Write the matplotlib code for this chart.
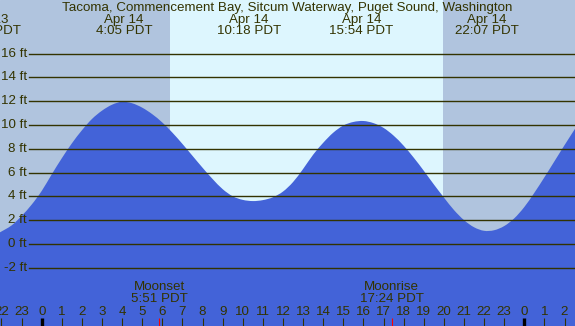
import numpy as np
import matplotlib
matplotlib.use('Agg')
import matplotlib.pyplot as plt
import matplotlib.transforms as mtransforms
from matplotlib.path import Path
from matplotlib.patches import PathPatch

plt.rcParams['font.family'] = ['Liberation Sans', 'DejaVu Sans']

# tide height (ft) every half hour, hours from midnight Apr 14 (PDT)
tide_hours = [-2.1, -1.5, -1.0, -0.5, 0.0, 0.5, 1.0, 1.5, 2.0, 2.5, 3.0, 3.5,
              4.0, 4.5, 5.0, 5.5, 6.0, 6.5, 7.0, 7.5, 8.0, 8.5, 9.0, 9.5,
              10.0, 10.5, 11.0, 11.5, 12.0, 12.5, 13.0, 13.5, 14.0, 14.5, 15.0, 15.5,
              16.0, 16.5, 17.0, 17.5, 18.0, 18.5, 19.0, 19.5, 20.0, 20.5, 21.0, 21.5,
              22.0, 22.5, 23.0, 23.5, 24.0, 24.5, 25.0, 25.5, 26.0, 26.55]
tide_ft = [0.95, 1.55, 2.35, 3.3, 4.45, 5.85, 7.2, 8.45, 9.55, 10.5, 11.2, 11.7,
           11.95, 11.82, 11.45, 10.9, 10.2, 9.35, 8.4, 7.4, 6.4, 5.45, 4.6, 4.0,
           3.7, 3.6, 3.68, 3.92, 4.4, 5.2, 6.3, 7.5, 8.5, 9.35, 9.95, 10.25,
           10.33, 10.15, 9.75, 9.1, 8.25, 7.25, 6.15, 5.0, 3.9, 2.85, 2.0, 1.4,
           1.1, 1.15, 1.5, 2.15, 3.1, 4.3, 5.6, 6.95, 8.3, 9.75]

# high / low tide labels
ext_day = [13, 14, 14, 14, 14]
ext_time = ['21:22', '4:05', '10:18', '15:54', '22:07']

sunrise = '6:23'
sunset = '19:56'

moon_events = ['Moonset', 'Moonrise']
moon_times = ['5:51', '17:24']

ft_levels = [-2, 0, 2, 4, 6, 8, 10, 12, 14, 16]
hour_ticks = list(range(-2, 27))

title = 'Tacoma, Commencement Bay, Sitcum Waterway, Puget Sound, Washington'


def to_hours(t, day=14):
    h, m = t.split(':')
    return int(h) + int(m) / 60.0 + (day - 14) * 24


def smooth_path(xs, ys, bottom):
    # smooth curve through the read points (bezier segments), closed at bottom
    p = np.column_stack([xs, ys])
    n = len(p)
    verts = [p[0]]
    codes = [Path.MOVETO]
    for i in range(n - 1):
        a = p[i - 1] if i > 0 else p[i]
        d = p[i + 2] if i + 2 < n else p[i + 1]
        c1 = p[i] + (p[i + 1] - a) / 6.0
        c2 = p[i + 1] - (d - p[i]) / 6.0
        verts += [c1, c2, p[i + 1]]
        codes += [Path.CURVE4] * 3
    verts += [(xs[-1], bottom), (xs[0], bottom), p[0]]
    codes += [Path.LINETO, Path.LINETO, Path.CLOSEPOLY]
    return Path(verts, codes)


txtc = '#333300'
fs = 9.6
fig = plt.figure(figsize=(5.75, 3.26), dpi=100)
ax = fig.add_axes([0, 0, 1, 1])
ax.set_xlim(-2.074, 26.52)
ax.set_ylim(-6.9, 20.5)
ax.axis('off')
ax.add_patch(plt.Rectangle((0, 0), 1, 1, transform=ax.transAxes, color='#B0C4DE', zorder=0))
ax.axvspan(to_hours(sunrise), to_hours(sunset), color='#DDF6FE', zorder=1, lw=0)

ax.add_patch(PathPatch(smooth_path(tide_hours, tide_ft, -10), facecolor='#4363D8',
                       lw=0, zorder=2))

ybl = mtransforms.blended_transform_factory(ax.transAxes, ax.transData)
for lv in ft_levels:
    ax.axhline(lv, xmin=29 / 575, xmax=1, color=txtc, lw=1.0, zorder=3)
    ax.text(27 / 575, lv, '%d ft' % lv, transform=ybl, ha='right', va='center',
            fontsize=fs, color=txtc, zorder=4)

ax.text(0.5, 1 - 8 / 326, title, transform=ax.transAxes, ha='center', va='center',
        fontsize=fs, color=txtc)

xbl = mtransforms.blended_transform_factory(ax.transData, ax.transAxes)
for d, t in zip(ext_day, ext_time):
    h = to_hours(t, d)
    ax.text(h, 1 - 19.5 / 326, 'Apr %d' % d, transform=xbl, ha='center', va='center',
            fontsize=fs, color=txtc)
    ax.text(h, 1 - 31 / 326, '%s PDT' % t, transform=xbl, ha='center', va='center',
            fontsize=fs, color=txtc)

for name, t in zip(moon_events, moon_times):
    h = to_hours(t)
    ax.text(h, 1 - 287 / 326, name, transform=xbl, ha='center', va='center',
            fontsize=fs, color=txtc)
    ax.text(h, 1 - 299 / 326, '%s PDT' % t, transform=xbl, ha='center', va='center',
            fontsize=fs, color=txtc)
    ax.vlines(h, 0, 8 / 326, transform=xbl, color='red', lw=0.8, zorder=5)

for h in hour_ticks:
    ax.text(h, 1 - 312 / 326, str(h % 24), transform=xbl, ha='center', va='center',
            fontsize=fs, color=txtc)
    midnight = (h % 24 == 0)
    ax.vlines(h, 0, 8 / 326, transform=xbl, color='black' if midnight else txtc,
              lw=2.4 if midnight else 0.8, zorder=5)

fig.savefig('out.png', dpi=100)
